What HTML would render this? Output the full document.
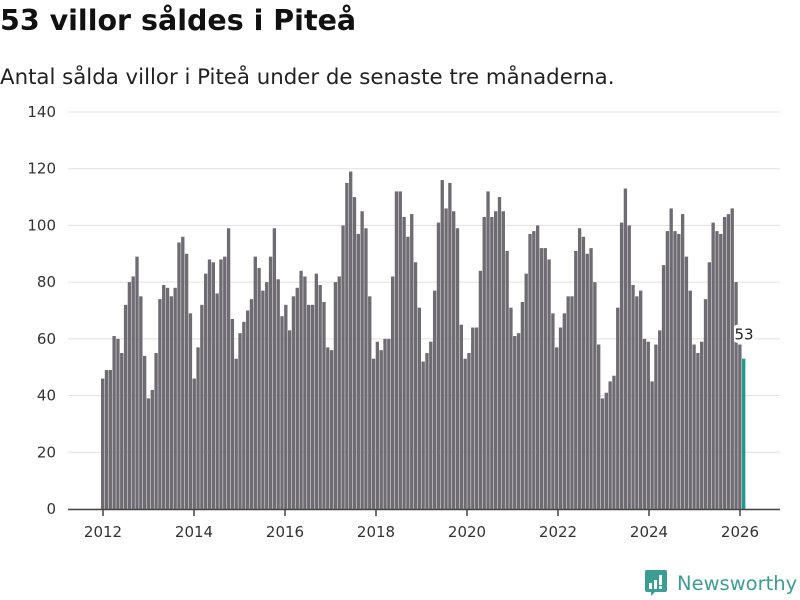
<!DOCTYPE html>
<html><head><meta charset="utf-8">
<style>
body{margin:0;width:800px;height:600px;background:#fff;font-family:"DejaVu Sans","Liberation Sans",sans-serif;overflow:hidden;position:relative}
#title{position:absolute;left:0;top:4px;font-size:28.5px;font-weight:bold;color:#111;margin:0}
#sub{position:absolute;left:0;top:65px;font-size:21.3px;color:#222}
svg{position:absolute;left:0;top:0}
</style></head><body>
<h1 id="title">53 villor såldes i Piteå</h1>
<div id="sub">Antal sålda villor i Piteå under de senaste tre månaderna.</div>
<svg id="chart" width="800" height="600"></svg>
<div style="position:absolute;left:645px;top:570px;height:26px;display:flex;align-items:center">
<svg width="22" height="26" viewBox="0 0 22 26" style="position:static"><path d="M0 2 Q0 0 2 0 H20 Q22 0 22 2 V20 Q22 22 20 22 H10 L6 26 V22 H2 Q0 22 0 20Z" fill="#3a9e93"/><rect x="4" y="13" width="3" height="6" fill="#fff"/><rect x="9" y="10" width="3" height="9" fill="#fff"/><rect x="14" y="5" width="3" height="10" fill="#fff"/><rect x="14" y="16" width="3" height="3" fill="#fff"/></svg>
<span style="color:#3a9e93;font-size:19.5px;margin-left:10px;font-family:'DejaVu Sans',sans-serif">Newsworthy</span></div>
<script>
const years=[2012,2013,2014,2015,2016,2017,2018,2019,2020,2021,2022,2023,2024,2025,2026];
const values=[46,49,49,61,60,55,72,80,82,89,75,54,
39,42,55,74,79,78,75,78,94,96,90,69,
46,57,72,83,88,87,76,88,89,99,67,53,
62,66,70,74,89,85,77,80,89,99,81,68,
72,63,75,78,84,82,72,72,83,79,73,57,
56,80,82,100,115,119,110,97,105,99,75,53,
59,56,60,60,82,112,112,103,96,104,87,71,
52,55,59,77,101,116,106,115,105,99,65,53,
55,64,64,84,103,112,103,105,110,105,91,71,
61,62,73,83,97,98,100,92,92,88,69,57,
64,69,75,75,91,99,96,90,92,80,58,39,
41,45,47,71,101,113,100,79,75,77,60,59,
45,58,63,86,98,106,98,97,104,89,77,58,
55,59,74,87,101,98,97,103,104,106,80,58,
53];
const yTicks=[0,20,40,60,80,100,120,140];
const xTickYears=[2012,2014,2016,2018,2020,2022,2024,2026];
const svg=document.getElementById('chart');
const NS='http://www.w3.org/2000/svg';
const y=v=>509-v*(397/140);
const x=i=>103+i*(637/168);
const bx=i=>101+i*(641/168);
function mk(t,a){const e=document.createElementNS(NS,t);for(const k in a)e.setAttribute(k,a[k]);svg.appendChild(e);return e;}
yTicks.forEach(v=>{
 const g=mk('line',{x1:68,x2:780,y1:y(v),y2:y(v),stroke:'#e0e0e0','stroke-width':1});
 
 
 const t=mk('text',{x:56,y:y(v)+5,'text-anchor':'end','font-size':15,fill:'#333','font-family':'DejaVu Sans, sans-serif'});
 t.textContent=v;
 
 
});
values.forEach((v,i)=>{
 const last=i===values.length-1;
 const r=mk('rect',{x:bx(i),y:y(v),width:3.35,height:509-y(v),fill:last?'#1f9a8e':'#6e6c72'});
 
 
});
const ax=mk('line',{x1:68,x2:780,y1:509.5,y2:509.5,stroke:'#444','stroke-width':1.5});


xTickYears.forEach(yr=>{
 const i=(yr-2012)*12;
 const tk=mk('line',{x1:x(i),x2:x(i),y1:509,y2:516,stroke:'#444','stroke-width':1.5});
 
 
 const t=mk('text',{x:x(i),y:537,'text-anchor':'middle','font-size':15,fill:'#333','font-family':'DejaVu Sans, sans-serif'});
 t.textContent=yr;
 
 
});
const li=values.length-1;
const bg=mk('rect',{x:bx(li)-8,y:y(values[li])-34,width:21,height:18,rx:3,fill:'#fff'});


const lbl=mk('text',{x:bx(li)+2,y:y(values[li])-19,'text-anchor':'middle','font-size':15,fill:'#222','font-family':'DejaVu Sans, sans-serif'});
lbl.textContent=values[li];


</script>
</body></html>
